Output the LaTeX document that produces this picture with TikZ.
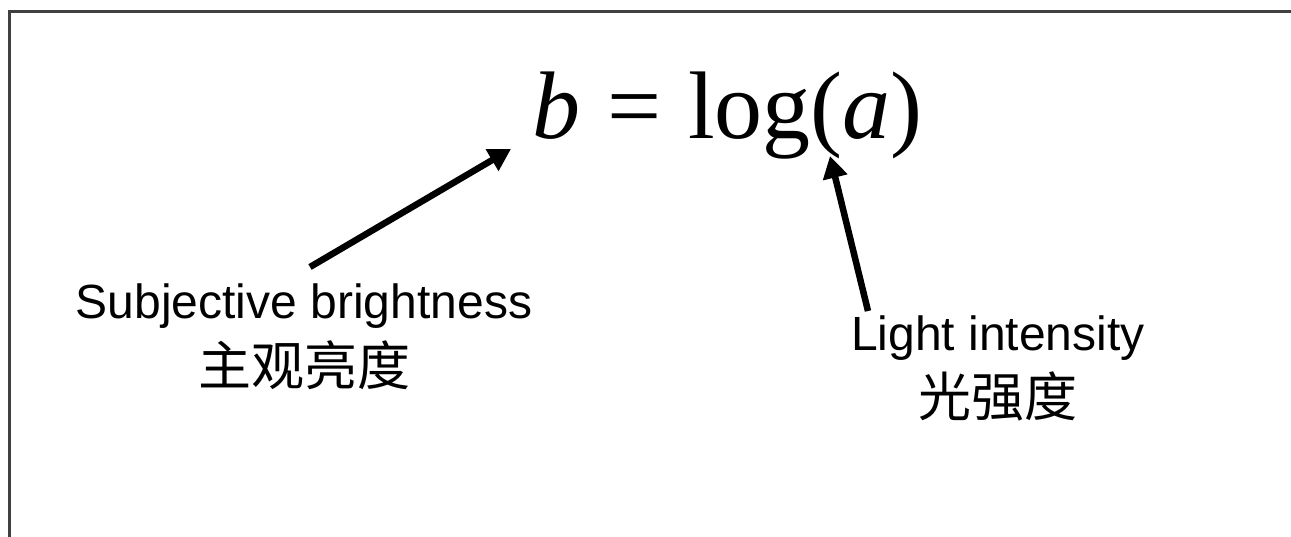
\documentclass[tikz,border=0pt]{standalone}
\usepackage{fontspec}
\setmainfont{Liberation Serif}
\newfontfamily\arialfont{Liberation Sans}
\newfontfamily\cjk{Noto Sans CJK SC}
\usetikzlibrary{arrows.meta}
\definecolor{framegray}{HTML}{404040}
\tikzset{
  lbl/.style={inner sep=0pt, anchor=base, font=\arialfont\fontsize{48}{52}\selectfont},
  cjklbl/.style={inner sep=0pt, anchor=base, font=\cjk\fontsize{53}{58}\selectfont},
  eqn/.style={inner sep=0pt, anchor=base west, font=\fontsize{96}{100}\selectfont},
  pointer/.style={line width=6.5pt, -{Triangle[length=22pt,width=24pt]}, shorten >=0pt}
}
\begin{document}
\begin{tikzpicture}[x=1pt,y=-1pt]
\useasboundingbox (0,0) rectangle (1291,536);
\clip (0,0) rectangle (1291,536);
\draw[framegray, line width=3.5pt] (9.5,11.5) rectangle (1310,560);
\node[eqn] (eq) at (532,138) {\textit{b}\hspace{0.28em}=\hspace{0.28em}log(\textit{a})};
\node[lbl] (subj) at (304,318) {Subjective brightness};
\node[cjklbl] (subjcn) at (304,385) {主观亮度};
\node[lbl] (light) at (998,350) {Light intensity};
\node[cjklbl] (lightcn) at (998,416) {光强度};
\coordinate (subjtail) at (310,267);
\coordinate (subjtip) at (511,149);
\coordinate (lighttail) at (868,311);
\coordinate (lighttip) at (830,156);
\draw[pointer] (subjtail) -- (subjtip);
\draw[pointer] (lighttail) -- (lighttip);
\end{tikzpicture}
\end{document}
